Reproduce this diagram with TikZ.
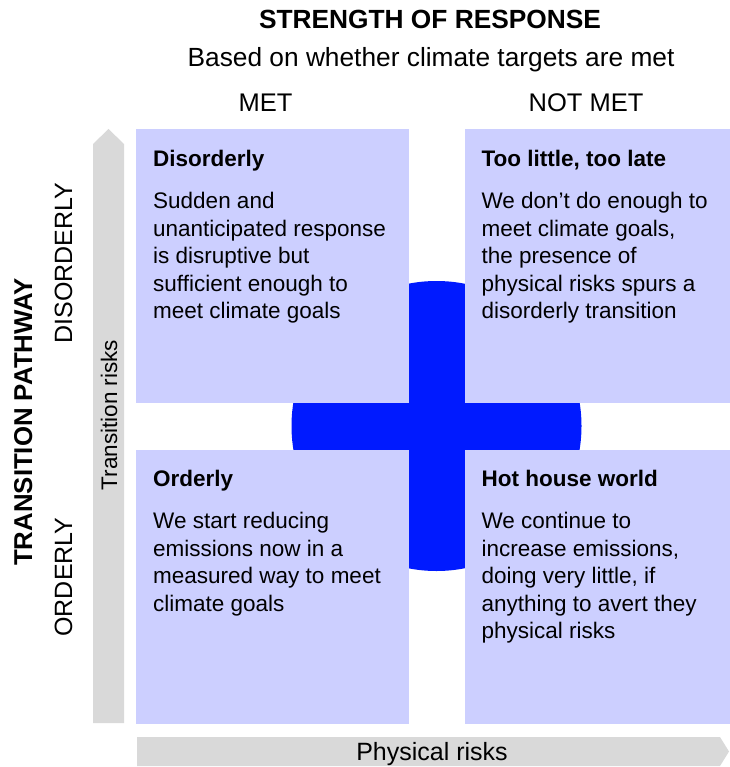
\documentclass[tikz,border=0pt]{standalone}
\usepackage{fontspec}
\setmainfont{Liberation Sans}
\usetikzlibrary{calc,positioning}
\definecolor{quadfill}{RGB}{204,207,255}
\definecolor{crossblue}{RGB}{0,26,255}
\definecolor{riskgrey}{RGB}{217,217,217}
\tikzset{
    quad/.style = {fill=quadfill, rectangle, inner sep=0pt,
        minimum width=273pt,
        minimum height=274pt},
    quadtext/.style = {anchor=north west, inner sep=0pt, align=left,
        font=\fontsize{22.5}{27.5}\selectfont},
    heading/.style = {anchor=base, inner sep=0pt,
        font=\fontsize{26.3}{31}\selectfont\bfseries},
    caption/.style = {anchor=base, inner sep=0pt,
        font=\fontsize{25.5}{30}\selectfont},
}

\begin{document}
\begin{tikzpicture}[x=1pt, y=-1pt]
		\useasboundingbox (0,0) rectangle (729,767);
		% blue cross, a disc that shows through the gaps
		\fill [crossblue] (436.5,426) circle (145pt);
		
		% grey risk arrows
		\fill [riskgrey] (93,723) -- (93,144) -- (108.5,129) -- (124,144) -- (124,723) -- cycle;
		\fill [riskgrey] (137,737) -- (720,737) -- (729,751.5) -- (720,766) -- (137,766) -- cycle;
		
		% quadrants
		\node [quad, anchor=north west] (disorderly) at (136,129) {};
		\node [quad, right=55pt of disorderly, minimum width=265pt] (toolate) {};
		\node [quad, below=46pt of disorderly] (orderly) {};
		\node [quad, right=55pt of orderly, minimum width=265pt] (hothouse) {};
		
		% quadrant texts
		\node [quadtext] (disorderlytext) at ($(disorderly.north west)+(17,21)$)
			{\textbf{Disorderly}\\[14.5pt] Sudden and\\ unanticipated response\\ is disruptive but\\ sufficient enough to\\ meet climate goals};
		\node [quadtext] (toolatetext) at ($(toolate.north west)+(17,21)$)
			{\textbf{Too little, too late}\\[14.5pt] We don’t do enough to\\ meet climate goals,\\ the presence of\\ physical risks spurs a\\ disorderly transition};
		\node [quadtext] (orderlytext) at ($(orderly.north west)+(17,21)$)
			{\textbf{Orderly}\\[14.5pt] We start reducing\\ emissions now in a\\ measured way to meet\\ climate goals};
		\node [quadtext] (hothousetext) at ($(hothouse.north west)+(17,21)$)
			{\textbf{Hot house world}\\[14.5pt] We continue to\\ increase emissions,\\ doing very little, if\\ anything to avert they\\ physical risks};
		
		% top headings
		\node [heading] (strength) at (430,29) {STRENGTH OF RESPONSE};
		\node [caption, font=\fontsize{26.3}{31}\selectfont] (basis) at (431,67) {Based on whether climate targets are met};
		\node [caption] (met) at (265.5,112) {MET};
		\node [caption] (notmet) at (586,112) {NOT MET};
		
		% side headings
		\node [heading, rotate=90, font=\fontsize{25.8}{31}\selectfont\bfseries] (pathway) at (32,422) {TRANSITION PATHWAY};
		\node [caption, font=\fontsize{25}{30}\selectfont, rotate=90] (disord) at (72,263) {DISORDERLY};
		\node [caption, font=\fontsize{25}{30}\selectfont, rotate=90] (ord) at (72,577) {ORDERLY};
		
		% arrow labels
		\node [caption, rotate=90, font=\fontsize{22.5}{27}\selectfont] (transrisk) at (117,415) {Transition risks};
		\node [caption, font=\fontsize{25}{30}\selectfont] (physrisk) at (432,760) {Physical risks};
	\end{tikzpicture}
\end{document}
